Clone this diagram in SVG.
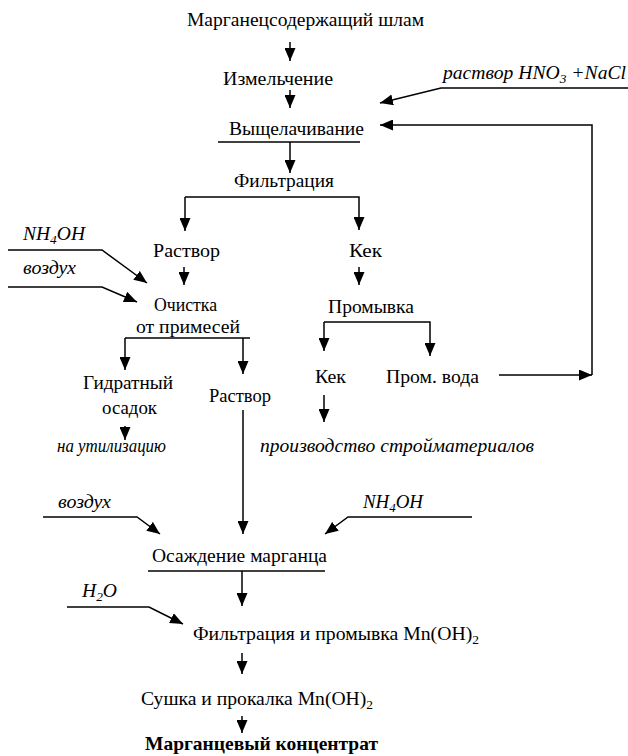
<svg xmlns="http://www.w3.org/2000/svg" width="628" height="756" viewBox="0 0 628 756" font-family="'Liberation Serif', 'Times New Roman', 'DejaVu Serif', serif">
<style>
text{font-family:'Liberation Serif','Times New Roman','DejaVu Serif',serif;font-size:19px;fill:#000}
.i{font-style:italic}
.b{font-weight:bold}
.ln{fill:none;stroke:#000;stroke-width:1.5}
.ar{fill:none;stroke:#000;stroke-width:1.5;marker-end:url(#ah)}
</style>
<defs>
<marker id="ah" markerUnits="userSpaceOnUse" markerWidth="13" markerHeight="11" refX="13" refY="5.5" orient="auto" viewBox="0 0 13 11">
<path d="M0,0 L13,5.5 L0,11 z" fill="#000"/>
</marker>
</defs>
<rect width="628" height="756" fill="#fff"/>
<g id="connectors">
<path class="ar" d="M290,42 V61"/>
<path class="ar" d="M290,90 V108"/>
<path class="ar" d="M628,88 H441 L380,103"/>
<path class="ln" d="M218,142 H360"/>
<path class="ar" d="M290,142 V173"/>
<path class="ar" d="M185,197 V231"/>
<path class="ar" d="M185,197 H359 V230"/>
<path class="ar" d="M184,267 V285"/>
<path class="ar" d="M8,250 H102 L147,283"/>
<path class="ar" d="M8,287 H102 L137,302"/>
<path class="ar" d="M359,267 V285"/>
<path class="ln" d="M125,338 H250"/>
<path class="ar" d="M125,338 V370"/>
<path class="ar" d="M243,338 V374"/>
<path class="ar" d="M324,322 V351"/>
<path class="ar" d="M324,322 H430 V356"/>
<path class="ar" d="M499,375 H592"/>
<path class="ar" d="M592,375 V125 H380"/>
<path class="ar" d="M324,395 V422"/>
<path class="ar" d="M125,426 V440"/>
<path class="ar" d="M243,410 V534"/>
<path class="ar" d="M43,517 H137 L160,534"/>
<path class="ar" d="M472,517 H348 L325,534"/>
<path class="ln" d="M148,571 H325"/>
<path class="ar" d="M242,571 V606"/>
<path class="ar" d="M67,607 H149 L183,624"/>
<path class="ar" d="M242,653 V674"/>
<path class="ar" d="M242,716 V733"/>
</g>
<g id="n-shlam"><text x="187" y="26" textLength="237" lengthAdjust="spacingAndGlyphs">Марганецсодержащий шлам</text></g>
<g id="n-izmelchenie"><text x="223" y="85" textLength="110" lengthAdjust="spacingAndGlyphs">Измельчение</text></g>
<g id="n-reagent1"><text class="i" x="443" y="79" textLength="183" lengthAdjust="spacingAndGlyphs">раствор HNO<tspan font-size="13" dy="4">3</tspan><tspan dy="-4"> +NaCl</tspan></text></g>
<g id="n-vyshchelachivanie"><text x="229" y="135" textLength="135" lengthAdjust="spacingAndGlyphs">Выщелачивание</text></g>
<g id="n-filtratsiya"><text x="234" y="187" textLength="100" lengthAdjust="spacingAndGlyphs">Фильтрация</text></g>
<g id="n-rastvor1"><text x="153" y="257" textLength="67" lengthAdjust="spacingAndGlyphs">Раствор</text></g>
<g id="n-kek1"><text x="349" y="257" textLength="33" lengthAdjust="spacingAndGlyphs">Кек</text></g>
<g id="n-nh4oh1"><text class="i" x="23" y="240" textLength="62" lengthAdjust="spacingAndGlyphs">NH<tspan font-size="13" dy="4">4</tspan><tspan dy="-4">OH</tspan></text></g>
<g id="n-vozdukh1"><text class="i" x="23" y="274" textLength="53" lengthAdjust="spacingAndGlyphs">воздух</text></g>
<g id="n-ochistka"><text x="154" y="311" textLength="63" lengthAdjust="spacingAndGlyphs">Очистка</text><text x="136" y="333" textLength="104" lengthAdjust="spacingAndGlyphs">от примесей</text></g>
<g id="n-promyvka"><text x="328" y="313" textLength="86" lengthAdjust="spacingAndGlyphs">Промывка</text></g>
<g id="n-kek2"><text x="315" y="383" textLength="31" lengthAdjust="spacingAndGlyphs">Кек</text></g>
<g id="n-promvoda"><text x="386" y="383" textLength="93" lengthAdjust="spacingAndGlyphs">Пром. вода</text></g>
<g id="n-gidratny"><text x="83" y="389" textLength="90" lengthAdjust="spacingAndGlyphs">Гидратный</text><text x="102" y="414" textLength="55" lengthAdjust="spacingAndGlyphs">осадок</text></g>
<g id="n-rastvor2"><text x="209" y="402" textLength="62" lengthAdjust="spacingAndGlyphs">Раствор</text></g>
<g id="n-utilizatsiya"><text class="i" x="57" y="452" textLength="109" lengthAdjust="spacingAndGlyphs">на утилизацию</text></g>
<g id="n-stroymat"><text class="i" x="260" y="452" textLength="274" lengthAdjust="spacingAndGlyphs">производство стройматериалов</text></g>
<g id="n-vozdukh2"><text class="i" x="58" y="508" textLength="53" lengthAdjust="spacingAndGlyphs">воздух</text></g>
<g id="n-nh4oh2"><text class="i" x="363" y="508" textLength="60" lengthAdjust="spacingAndGlyphs">NH<tspan font-size="13" dy="4">4</tspan><tspan dy="-4">OH</tspan></text></g>
<g id="n-osazhdenie"><text x="152" y="562" textLength="175" lengthAdjust="spacingAndGlyphs">Осаждение марганца</text></g>
<g id="n-h2o"><text class="i" x="82" y="597" textLength="35" lengthAdjust="spacingAndGlyphs">H<tspan font-size="13" dy="4">2</tspan><tspan dy="-4">O</tspan></text></g>
<g id="n-filtr2"><text x="193" y="640" textLength="286" lengthAdjust="spacingAndGlyphs">Фильтрация и промывка Mn(OH)<tspan font-size="13" dy="4">2</tspan></text></g>
<g id="n-sushka"><text x="141" y="705" textLength="232" lengthAdjust="spacingAndGlyphs">Сушка и прокалка Mn(OH)<tspan font-size="13" dy="4">2</tspan></text></g>
<g id="n-konts"><text class="b" x="145" y="750" textLength="233" lengthAdjust="spacingAndGlyphs">Марганцевый концентрат</text></g>
</svg>
